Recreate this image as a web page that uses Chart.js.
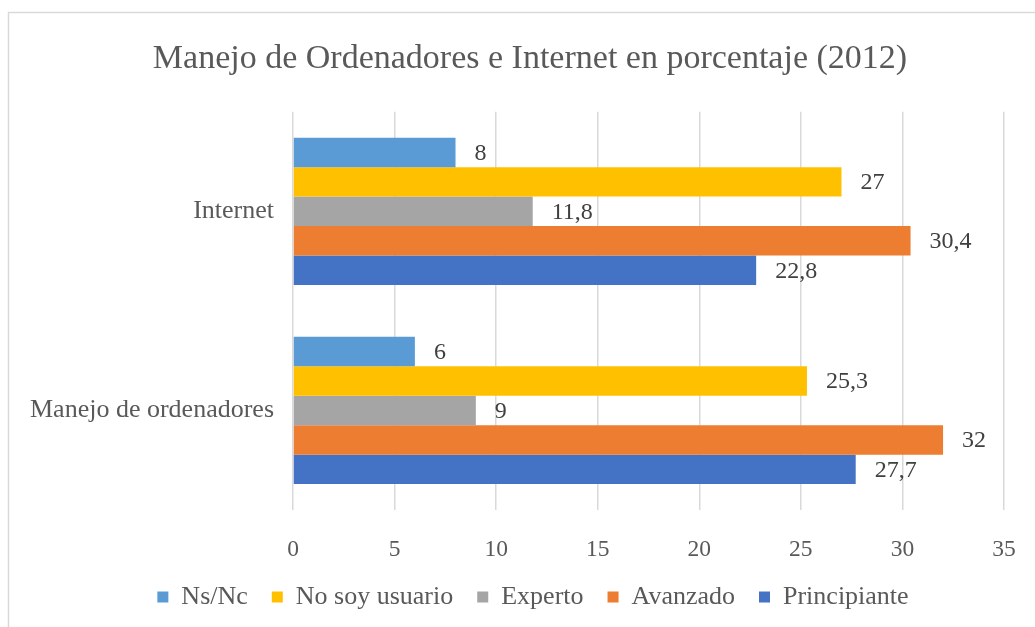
<!DOCTYPE html>
<html>
<head>
<meta charset="utf-8">
<script src="https://cdn.jsdelivr.net/npm/chart.js@4.4.1/dist/chart.umd.min.js"></script>
<style>
html,body{margin:0;padding:0;background:#fff;}
#wrap{width:1035px;height:627px;position:relative;}
</style>
</head>
<body>
<div id="wrap"><canvas id="c" width="1035" height="627"></canvas></div>
<script>
const categories = ["Internet", "Manejo de ordenadores"];
const seriesNames = ["Ns/Nc", "No soy usuario", "Experto", "Avanzado", "Principiante"];
const nsnc = [8, 6];
const noSoyUsuario = [27, 25.3];
const experto = [11.8, 9];
const avanzado = [30.4, 32];
const principiante = [22.8, 27.7];
const seriesColors = ["#5B9BD5", "#FFC000", "#A5A5A5", "#ED7D31", "#4472C4"];
const xTicks = [0, 5, 10, 15, 20, 25, 30, 35];
const titleText = "Manejo de Ordenadores e Internet en porcentaje (2012)";

const seriesValues = [nsnc, noSoyUsuario, experto, avanzado, principiante];
const FONT = "'Liberation Serif', 'Times New Roman', serif";
const TXT = "#595959";

const frame = {
  id: 'frame',
  beforeDraw(chart) {
    const ctx = chart.ctx;
    ctx.save();
    ctx.fillStyle = '#fff';
    ctx.fillRect(0, 0, chart.width, chart.height);
    ctx.strokeStyle = '#D9D9D9';
    ctx.lineWidth = 1.5;
    ctx.strokeRect(8.5, 12.5, chart.width + 50, chart.height + 50);
    ctx.restore();
  }
};

const shiftBlocks = {
  id: 'shiftBlocks',
  afterLayout(chart) {
    const t = chart.titleBlock;
    if (t) { t.left += 28; t.right += 28; }
    const l = chart.legend;
    if (l) { l.left += 31; l.right += 31; }
  }
};

const dataLabels = {
  id: 'dataLabels',
  afterDatasetsDraw(chart) {
    const ctx = chart.ctx;
    ctx.save();
    ctx.font = "24px " + FONT;
    ctx.fillStyle = "#404040";
    ctx.textAlign = 'left';
    ctx.textBaseline = 'middle';
    chart.data.datasets.forEach((ds, i) => {
      const meta = chart.getDatasetMeta(i);
      meta.data.forEach((el, j) => {
        const v = ds.data[j];
        ctx.fillText(String(v).replace('.', ','), el.x + 19, el.y + 1);
      });
    });
    ctx.restore();
  }
};

new Chart(document.getElementById('c'), {
  type: 'bar',
  data: {
    labels: categories,
    datasets: seriesNames.map((n, i) => ({
      label: n,
      data: seriesValues[i],
      backgroundColor: seriesColors[i],
      borderWidth: 0,
      categoryPercentage: 0.74,
      barPercentage: 1.0
    }))
  },
  options: {
    indexAxis: 'y',
    responsive: false,
    animation: false,
    devicePixelRatio: 1,
    layout: { padding: { left: 0, right: 31, top: 0, bottom: 7 } },
    plugins: {
      title: {
        display: true,
        text: titleText,
        color: TXT,
        font: { family: FONT, size: 34, weight: 'normal' },
        padding: { top: 39, bottom: 32 }
      },
      legend: {
        position: 'bottom',
        labels: {
          color: TXT,
          font: { family: FONT, size: 26 },
          boxWidth: 11,
          boxHeight: 11,
          padding: 24
        }
      },
      tooltip: { enabled: false }
    },
    scales: {
      x: {
        min: 0,
        max: 35,
        afterBuildTicks(scale) { scale.ticks = xTicks.map(v => ({ value: v })); },
        afterFit(scale) { scale.height = 50; scale.paddingLeft = 0; scale.paddingRight = 0; },
        grid: { color: '#D9D9D9', lineWidth: 1.5, drawTicks: false },
        border: { display: false },
        ticks: { color: TXT, font: { family: FONT, size: 23.5 }, padding: 26 }
      },
      y: {
        afterFit(scale) { scale.width = 293; },
        grid: { display: false },
        border: { display: false },
        ticks: { color: TXT, font: { family: FONT, size: 26 }, padding: 11 }
      }
    }
  },
  plugins: [frame, shiftBlocks, dataLabels]
});
</script>
</body>
</html>
